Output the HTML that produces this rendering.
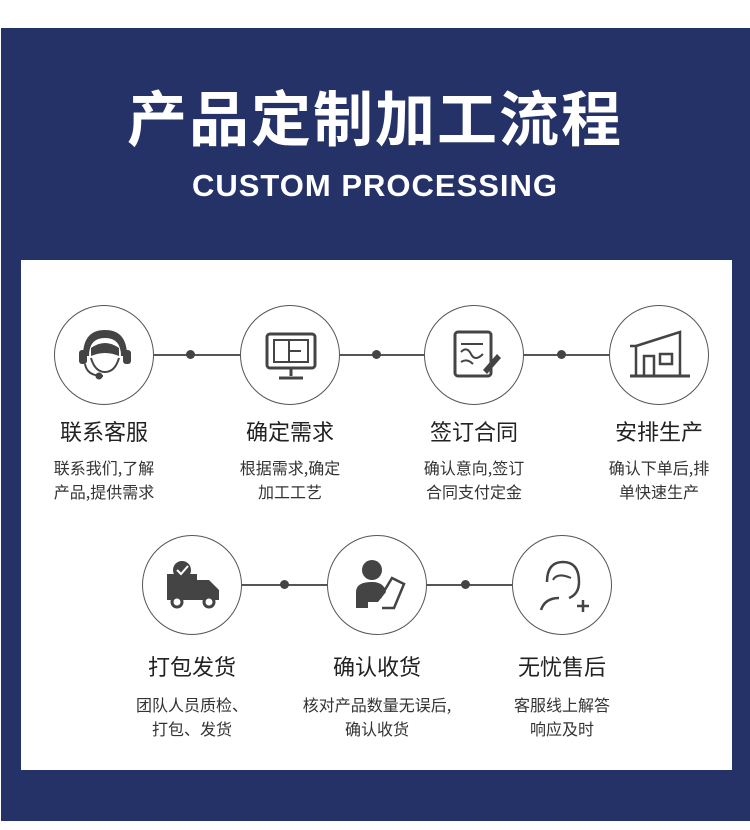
<!DOCTYPE html>
<html><head><meta charset="utf-8"><style>
body{margin:0;width:750px;height:830px;background:#fff;position:relative;overflow:hidden;font-family:"Liberation Sans","Noto Sans CJK SC",sans-serif}
.navy{position:absolute;left:1px;top:28px;width:749px;height:793px;background:#253268}
.panel{position:absolute;left:21px;top:260px;width:711px;height:510px;background:#fff}
.t1{position:absolute;left:0;width:750px;top:72px;text-align:center;color:#fff;font-size:60px;font-weight:bold;letter-spacing:2px;font-family:"Noto Sans CJK SC",sans-serif}
.t2{position:absolute;left:0;width:750px;top:168px;text-align:center;color:#fff;font-size:31px;font-weight:bold;letter-spacing:1px}
.c{position:absolute;width:100px;height:100px;border:1.5px solid #555;border-radius:50%;box-sizing:border-box;background:#fff}
.ln{position:absolute;height:1.5px;background:#555}
.dot{position:absolute;width:9px;height:9px;border-radius:50%;background:#444}
.h{position:absolute;width:200px;text-align:center;font-size:22px;color:#222;font-family:"Noto Sans CJK SC",sans-serif}
.d{position:absolute;width:200px;text-align:center;font-size:16px;color:#333;line-height:24px;font-family:"Noto Sans CJK SC",sans-serif}
</style></head><body>
<div class="navy"></div>
<div class="panel"></div>
<div class="t1">产品定制加工流程</div>
<div class="t2">CUSTOM PROCESSING</div>

<div class="ln" style="left:104px;top:354px;width:555px"></div>
<div class="ln" style="left:192px;top:584px;width:370px"></div>

<div class="dot" style="left:186px;top:350px"></div>
<div class="dot" style="left:372px;top:350px"></div>
<div class="dot" style="left:557px;top:350px"></div>
<div class="dot" style="left:280px;top:580px"></div>
<div class="dot" style="left:461px;top:580px"></div>

<div class="c" style="left:54px;top:305px"><svg width="100" height="100"><path d="M28 50 Q28 24 50 24 Q72 24 72 50 L66 50 Q66 32 50 32 Q34 32 34 50Z" fill="#444"/><rect x="24" y="44" width="8" height="14" rx="3" fill="#444"/><rect x="68" y="44" width="8" height="14" rx="3" fill="#444"/><path d="M36 42 Q50 32 64 42 L64 50 Q50 44 36 50Z" fill="#444"/><path d="M36 52 Q40 66 50 66 Q60 66 64 52" fill="none" stroke="#444" stroke-width="2"/><path d="M30 58 Q32 70 48 70" fill="none" stroke="#444" stroke-width="2"/><circle cx="44" cy="70" r="3.5" fill="#444"/></svg></div>
<div class="c" style="left:240px;top:305px"><svg width="100" height="100"><rect x="26" y="28" width="48" height="34" rx="3" fill="none" stroke="#444" stroke-width="3"/><rect x="33" y="34" width="34" height="22" fill="none" stroke="#444" stroke-width="2"/><path d="M48 34 V56 M48 45 H60" stroke="#444" stroke-width="2"/><path d="M50 62 V70 M38 72 H62" stroke="#444" stroke-width="3"/></svg></div>
<div class="c" style="left:424px;top:305px"><svg width="100" height="100"><rect x="30" y="26" width="36" height="44" rx="3" fill="none" stroke="#444" stroke-width="3"/><path d="M36 38 H58 M36 46 Q42 40 46 48 T58 48 M36 56 Q42 52 48 58" stroke="#444" stroke-width="2" fill="none"/><path d="M58 64 L72 48 L76 52 L62 68Z" fill="#444"/></svg></div>
<div class="c" style="left:609px;top:305px"><svg width="100" height="100"><path d="M26 40 L70 26 V70 H26Z" fill="none" stroke="#444" stroke-width="2.5"/><path d="M26 40 H20" stroke="#444" stroke-width="2.5"/><rect x="34" y="50" width="10" height="20" fill="none" stroke="#444" stroke-width="2.5"/><rect x="50" y="48" width="12" height="10" fill="none" stroke="#444" stroke-width="2.5"/><path d="M20 70 H80" stroke="#444" stroke-width="3"/></svg></div>
<div class="c" style="left:142px;top:535px"><svg width="100" height="100"><rect x="24" y="38" width="30" height="26" fill="#444"/><path d="M54 44 H66 L76 54 V64 H54Z" fill="#444"/><circle cx="34" cy="66" r="5" fill="#fff" stroke="#444" stroke-width="3"/><circle cx="66" cy="66" r="5" fill="#fff" stroke="#444" stroke-width="3"/><circle cx="39" cy="34" r="9" fill="#444"/><path d="M34 34 L38 38 L45 30" stroke="#fff" stroke-width="2" fill="none"/></svg></div>
<div class="c" style="left:327px;top:535px"><svg width="100" height="100"><circle cx="44" cy="34" r="10" fill="#444"/><path d="M28 72 V56 Q28 46 44 46 Q56 46 58 56 L50 66 H40 V72Z" fill="#444"/><path d="M52 62 L64 42 L76 48 L66 72 H54" fill="none" stroke="#444" stroke-width="2.5"/></svg></div>
<div class="c" style="left:512px;top:535px"><svg width="100" height="100"><path d="M34 46 Q34 26 50 26 Q66 26 66 46 Q66 58 56 62" fill="none" stroke="#444" stroke-width="2.5"/><path d="M40 44 Q44 36 58 42" fill="none" stroke="#444" stroke-width="2"/><path d="M28 74 Q32 62 46 62" fill="none" stroke="#444" stroke-width="2.5"/><path d="M64 70 H76 M70 64 V76" stroke="#444" stroke-width="2.5"/></svg></div>

<div class="h" style="left:4px;top:415px">联系客服</div>
<div class="h" style="left:190px;top:415px">确定需求</div>
<div class="h" style="left:374px;top:415px">签订合同</div>
<div class="h" style="left:559px;top:415px">安排生产</div>
<div class="d" style="left:4px;top:455px">联系我们,了解<br>产品,提供需求</div>
<div class="d" style="left:190px;top:455px">根据需求,确定<br>加工工艺</div>
<div class="d" style="left:374px;top:455px">确认意向,签订<br>合同支付定金</div>
<div class="d" style="left:559px;top:455px">确认下单后,排<br>单快速生产</div>

<div class="h" style="left:92px;top:650px">打包发货</div>
<div class="h" style="left:277px;top:650px">确认收货</div>
<div class="h" style="left:462px;top:650px">无忧售后</div>
<div class="d" style="left:92px;top:692px">团队人员质检、<br>打包、发货</div>
<div class="d" style="left:277px;top:692px">核对产品数量无误后,<br>确认收货</div>
<div class="d" style="left:462px;top:692px">客服线上解答<br>响应及时</div>
</body></html>
